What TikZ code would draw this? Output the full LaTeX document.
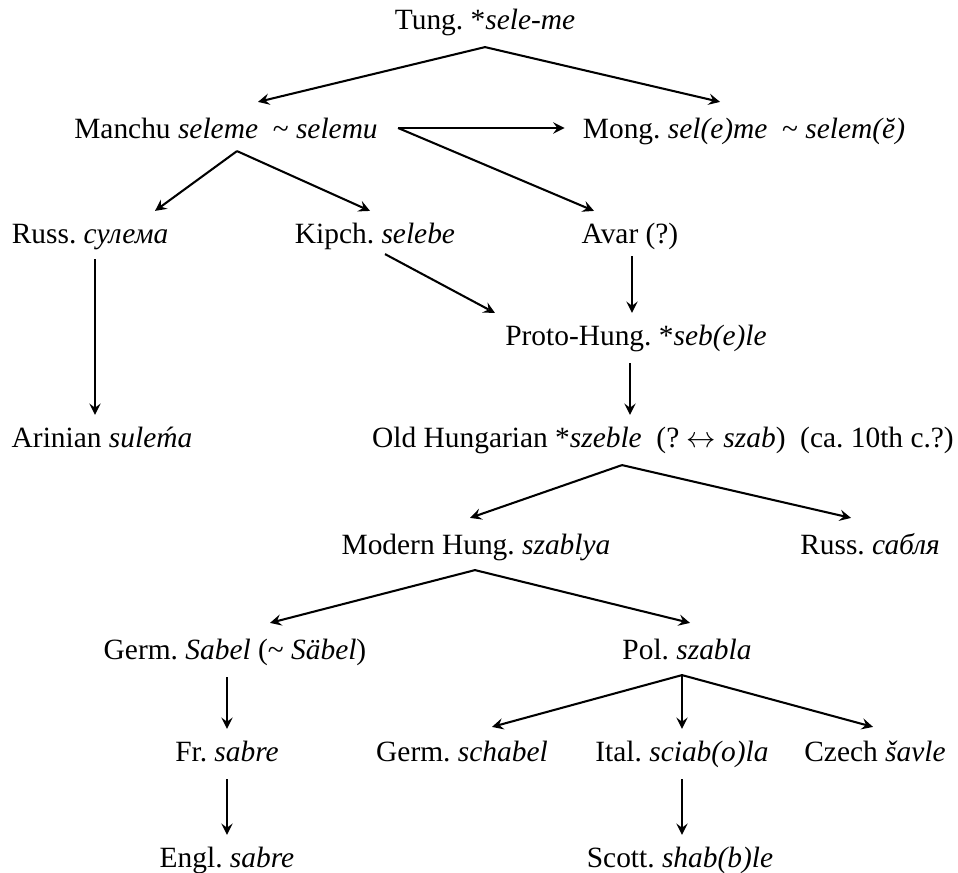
\documentclass[tikz,border=0pt]{standalone}
\usepackage{fontspec}
\setmainfont{Liberation Serif}
\frenchspacing
\usetikzlibrary{calc,arrows}

\begin{document}
\begin{tikzpicture}[x=0.34pt,y=-0.34pt,
        word/.style={inner sep=0.333em,text height=0.75em,text depth=0.25em},
        arr/.style={-stealth,line width=0.7pt}]
        \useasboundingbox (0,0) rectangle (958,872);

        % forms, row by row
        \node[word] (tung) at (485,22) {Tung. *\textit{sele-me}};
        \node[word] (manchu) at (226,131) {Manchu \textit{seleme}\ \ \textasciitilde\ \textit{selemu}};
        \node[word] (mong) at (744,131) {Mong. \textit{sel(e)me}\ \ \textasciitilde\ \textit{selem(ĕ)}};
        \node[word] (russ) at (90,236) {Russ. \textit{сулема}};
        \node[word] (kipch) at (375,236) {Kipch. \textit{selebe}};
        \node[word] (avar) at (630,236) {Avar (?)};
        \node[word] (proto) at (636,338) {Proto-Hung. *\textit{seb(e)le}};
        \node[word] (arinian) at (102,440) {Arinian \textit{suleḿa}};
        \node[word] (oldhung) at (663,440) {Old Hungarian *\textit{szeble}\ \ (? $\leftrightarrow$ \textit{szab})\ \ (ca. 10th c.?)};
        \node[word] (modern) at (476,547) {Modern Hung. \textit{szablya}};
        \node[word] (russb) at (870,547) {Russ. \textit{сабля}};
        \node[word] (germ) at (235,652) {Germ. \textit{Sabel} (\textasciitilde\ \textit{Säbel})};
        \node[word] (pol) at (687,652) {Pol. \textit{szabla}};
        \node[word] (fr) at (227,754) {Fr. \textit{sabre}};
        \node[word] (schabel) at (462,754) {Germ. \textit{schabel}};
        \node[word] (ital) at (682,754) {Ital. \textit{sciab(o)la}};
        \node[word] (czech) at (875,754) {Czech \textit{šavle}};
        \node[word] (engl) at (227,860) {Engl. \textit{sabre}};
        \node[word] (scott) at (680,860) {Scott. \textit{shab(b)le}};

        % borrowings
        \draw[arr] (tung.south) -- ($(manchu.north)+(32,-4)$);
        \draw[arr] (tung.south) -- ($(mong.north)+(-24,-4)$);
        \coordinate (mfork) at ($(manchu.east)+(10,-3)$);
        \draw[arr] (mfork) -- ($(mong.west)+(-8,-3)$);
        \draw[arr] (mfork) -- ($(avar.north)+(-36,0)$);
        \draw[arr] ($(manchu.south)+(11,-5)$) -- ($(russ.north)+(65,0)$);
        \draw[arr] ($(manchu.south)+(11,-5)$) -- ($(kipch.north)+(-5,0)$);
        \draw[arr] ($(russ.south)+(5,-2)$) -- ($(arinian.north)+(-7,0)$);
        \draw[arr] ($(kipch.south)+(10,-7)$) -- (proto.north west);
        \draw[arr] ($(avar.south)+(2,-5)$) -- ($(avar.south |- proto.north)+(2,0)$);
        \draw[arr] (proto.south -| avar.south) -- (oldhung.north -| avar.south);
        \draw[arr] ($(oldhung.south)+(-41,0)$) -- ($(modern.north)+(-6,-4)$);
        \draw[arr] ($(oldhung.south)+(-41,0)$) -- ($(russb.north)+(-19,-4)$);
        \draw[arr] ($(modern.south)+(-1,-2)$) -- ($(germ.north)+(35,-4)$);
        \draw[arr] ($(modern.south)+(-1,-2)$) -- ($(pol.north)+(3,-4)$);
        \draw[arr] (fr.north |- germ.south) -- (fr.north);
        \draw[arr] ($(pol.south)+(-5,-2)$) -- ($(schabel.north)+(30,-2)$);
        \draw[arr] ($(pol.south)+(-5,-2)$) -- (ital.north);
        \draw[arr] ($(pol.south)+(-5,-2)$) -- ($(czech.north)+(-2,-2)$);
        \draw[arr] (fr.south) -- (engl.north);
        \draw[arr] (ital.south) -- (ital.south |- scott.north);
    \end{tikzpicture}
\end{document}
